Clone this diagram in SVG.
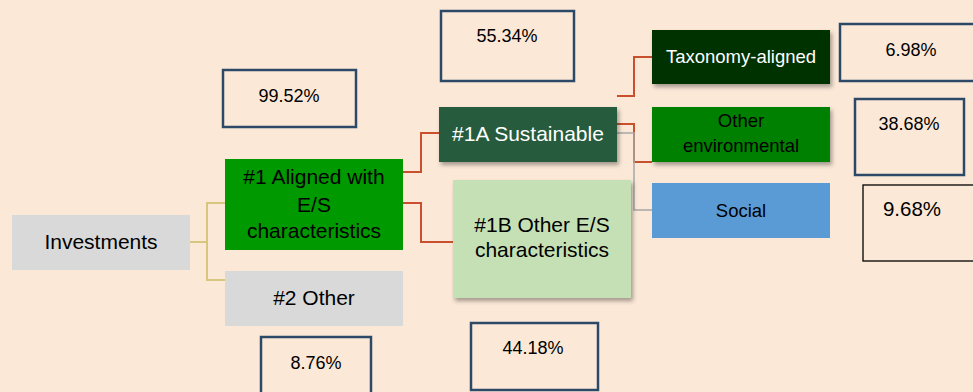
<svg xmlns="http://www.w3.org/2000/svg" width="973" height="392" viewBox="0 0 973 392">
<style>
text{font-family:"Liberation Sans",Arial,sans-serif;text-anchor:middle;fill:#000}
.w{fill:#fff}
.n{font-size:21px}
.s{font-size:18.5px}
.p{font-size:18px}
.vb{fill:none;stroke:#2C4A68;stroke-width:2.5}
.vk{fill:none;stroke:#000;stroke-width:1.3}
.red{fill:none;stroke:#C8502F;stroke-width:2}
.tan{fill:none;stroke:#D7C77E;stroke-width:2}
.gry{fill:none;stroke:#A6A6A6;stroke-width:1.5}
</style>
<defs>
<filter id="sh" x="-10%" y="-20%" width="125%" height="150%">
<feDropShadow dx="2" dy="3" stdDeviation="2" flood-color="#000" flood-opacity="0.35"/>
</filter>
</defs>
<rect width="973" height="392" fill="#FBE8D7"/>
<g id="connectors">
<path class="tan" d="M190,242 H207 V203 H225 M207,242 V280 H225"/>
<path class="red" d="M403,172 H421 V133 H439"/>
<path class="red" d="M403,203 H421 V242 H453"/>
<path class="red" d="M617,96 H634 V57 H652"/>
<path class="red" d="M617,124 H634 V162 H652"/>
<path class="gry" d="M617,133 H634 V210 H652"/>
</g>
<g id="investments"><rect x="12" y="215" width="178" height="55" fill="#D9D9D9"/><text class="n" x="101" y="249">Investments</text></g>
<g id="aligned"><rect x="225" y="159" width="178" height="91" fill="#009900"/><text class="n" x="314" y="184">#1 Aligned with</text><text class="n" x="314" y="212">E/S</text><text class="n" x="314" y="238">characteristics</text></g>
<g id="other2"><rect x="225" y="271" width="178" height="55" fill="#D9D9D9"/><text class="n" x="314" y="305">#2 Other</text></g>
<g id="sustainable"><rect x="439" y="107" width="178" height="55" fill="#265C3C" filter="url(#sh)"/><text class="n w" x="528" y="141">#1A Sustainable</text></g>
<g id="otheres"><rect x="453" y="180" width="178" height="118" fill="#C5E0B4" filter="url(#sh)"/><text class="n" x="542" y="232">#1B Other E/S</text><text class="n" x="542" y="257">characteristics</text></g>
<g id="taxonomy"><rect x="652" y="30" width="178" height="54" fill="#003300" filter="url(#sh)"/><text class="s w" x="741" y="63">Taxonomy-aligned</text></g>
<g id="otherenv"><rect x="652" y="107" width="178" height="55" fill="#008000" filter="url(#sh)"/><text class="s" x="741" y="127">Other</text><text class="s" x="741" y="152">environmental</text></g>
<g id="social"><rect x="652" y="183" width="178" height="55" fill="#5B9BD5"/><text class="s" x="741" y="217">Social</text></g>
<g id="v9952"><rect class="vb" x="223" y="70" width="133" height="57"/><text class="p" x="289" y="102">99.52%</text></g>
<g id="v5534"><rect class="vb" x="441" y="11" width="133" height="70"/><text class="p" x="507" y="42">55.34%</text></g>
<g id="v698"><rect class="vb" x="840" y="24" width="140" height="57"/><text class="p" x="911" y="56">6.98%</text></g>
<g id="v3868"><rect class="vb" x="855" y="99" width="109" height="76"/><text class="p" x="909" y="130">38.68%</text></g>
<g id="v968"><rect class="vk" x="863" y="185" width="120" height="76"/><text x="912" y="216" font-size="20.5">9.68%</text></g>
<g id="v876"><rect class="vb" x="261" y="337" width="110" height="70"/><text class="p" x="316" y="369">8.76%</text></g>
<g id="v4418"><rect class="vb" x="471" y="323" width="127" height="67"/><text class="p" x="533" y="354">44.18%</text></g>
</svg>
